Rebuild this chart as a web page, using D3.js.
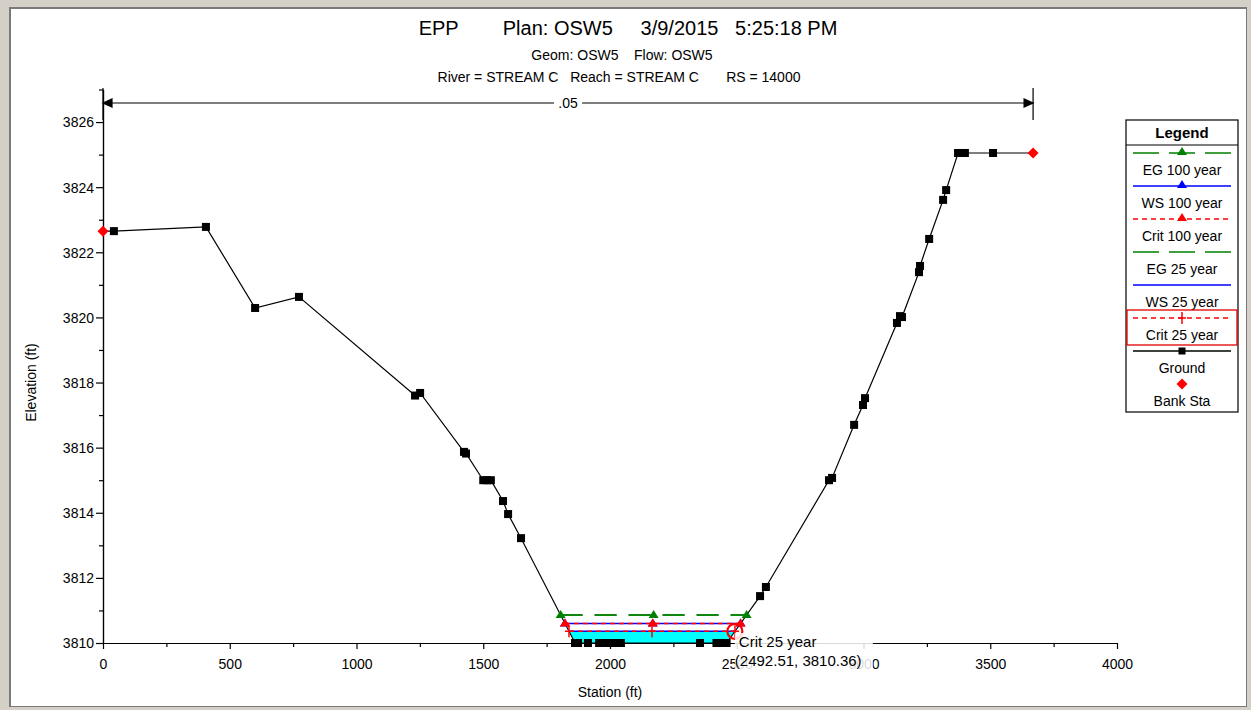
<!DOCTYPE html>
<html><head><meta charset="utf-8">
<script src="https://cdn.jsdelivr.net/npm/d3@7"></script>
<style>
html,body{margin:0;padding:0;background:#d4d0c8;}
svg{display:block;font-family:"Liberation Sans",Arial,sans-serif;}
</style></head>
<body>
<svg id="chart" width="1251" height="710"></svg>
<script>
// ---------- data ----------
const titleLines = ["EPP        Plan: OSW5     3/9/2015   5:25:18 PM",
                    "Geom: OSW5    Flow: OSW5",
                    "River = STREAM C   Reach = STREAM C       RS = 14000"];
const groundStation = [0, 43, 406, 600, 773, 1231, 1251, 1424, 1432, 1500, 1515, 1530, 1578, 1598, 1649,
  1862, 1874, 1913, 1957, 1975, 1995, 2015, 2035, 2043, 2355, 2420, 2440, 2460,
  2592, 2615, 2864, 2876, 2963, 2998, 3006, 3132, 3144, 3152, 3219, 3223, 3259, 3314, 3326, 3373, 3390, 3400, 3511, 3669];
const groundElev = [3822.65, 3822.65, 3822.78, 3820.29, 3820.63, 3817.60, 3817.68, 3815.87, 3815.82, 3815.0, 3815.0, 3815.0, 3814.36, 3813.96, 3813.22,
  3810.0, 3810.0, 3810.0, 3810.0, 3810.0, 3810.0, 3810.0, 3810.0, 3810.0, 3810.0, 3810.0, 3810.0, 3810.0,
  3811.44, 3811.72, 3815.0, 3815.07, 3816.70, 3817.31, 3817.52, 3819.83, 3820.04, 3820.01, 3821.39, 3821.58, 3822.41, 3823.61, 3823.91, 3825.05, 3825.05, 3825.05, 3825.05, 3825.05];
const bankStation = [0, 3669];
const bankElev = [3822.65, 3825.05];
const profileNames = ["EG 100 year", "WS 100 year", "Crit 100 year", "EG 25 year", "WS 25 year", "Crit 25 year"];
const profileElev = [3810.86, 3810.60, 3810.60, 3810.86, 3810.36, 3810.36];
const nValueLabel = [".05"];
const nValueStations = [0, 3669];
const xTicks = [0, 500, 1000, 1500, 2000, 2500, 3000, 3500, 4000];
const yTicks = [3810, 3812, 3814, 3816, 3818, 3820, 3822, 3824, 3826];
const tipLabel = "Crit 25 year";
const tipStation = 2492.51;
const tipElev = 3810.36;

// ---------- setup ----------
const svg = d3.select("#chart");
const x = d3.scaleLinear().domain([0, 4000]).range([103, 1117]);
const y = d3.scaleLinear().domain([3810, 3827]).range([643, 89.5]);
const ground = groundStation.map((s, i) => ({s, e: groundElev[i]}));

// window frame
svg.append("rect").attr("x", 0).attr("y", 0).attr("width", 1251).attr("height", 710).attr("fill", "#d4d0c8");
svg.append("rect").attr("x", 9).attr("y", 7).attr("width", 1238).attr("height", 700).attr("fill", "#7a7a7a");
svg.append("rect").attr("x", 11).attr("y", 9).attr("width", 1235).attr("height", 697).attr("fill", "#ffffff");

// titles
svg.append("text").attr("x", 628).attr("y", 35).attr("text-anchor", "middle").attr("font-size", 20)
  .style("white-space", "pre").text(titleLines[0]);
svg.append("text").attr("x", 622).attr("y", 60).attr("text-anchor", "middle").attr("font-size", 14)
  .style("white-space", "pre").text(titleLines[1]);
svg.append("text").attr("x", 619).attr("y", 82).attr("text-anchor", "middle").attr("font-size", 14)
  .style("white-space", "pre").text(titleLines[2]);

// axes
const yMinor = d3.range(3810, 3828, 1).filter(v => v % 2 !== 0);
const yAxisMinor = svg.append("g").attr("transform", `translate(${x(0)},0)`)
  .call(d3.axisLeft(y).tickValues(yMinor).tickSize(4).tickSizeOuter(0).tickFormat(""));
const yAxis = svg.append("g").attr("transform", `translate(${x(0)},0)`)
  .call(d3.axisLeft(y).tickValues(yTicks).tickSize(7).tickSizeOuter(0).tickPadding(2).tickFormat(d3.format("d")));
const xMinor = d3.range(250, 4000, 500);
const xAxisMinor = svg.append("g").attr("transform", `translate(0,${y(3810)})`)
  .call(d3.axisBottom(x).tickValues(xMinor).tickSize(4).tickSizeOuter(0).tickFormat(""));
const xAxis = svg.append("g").attr("transform", `translate(0,${y(3810)})`)
  .call(d3.axisBottom(x).tickValues(xTicks).tickSize(6).tickSizeOuter(0).tickPadding(10).tickFormat(d3.format("d")));
[yAxis, xAxis, yAxisMinor, xAxisMinor].forEach(g => {
  g.selectAll("text").attr("font-size", 14).attr("fill", "#000").style("font-family", '"Liberation Sans",Arial,sans-serif');
  g.selectAll("line,path").attr("stroke", "#000").attr("stroke-width", 1.2);
});
yAxis.selectAll("text").attr("dy", "0.35em");

svg.append("text").attr("transform", `translate(36,${y(3818)}) rotate(-90)`).attr("text-anchor", "middle")
  .attr("font-size", 14).text("Elevation (ft)");
svg.append("text").attr("x", x(2000)).attr("y", 697).attr("text-anchor", "middle").attr("font-size", 14).text("Station (ft)");

// n-value span
const nY = 103;
const ng = svg.append("g").attr("stroke", "#000").attr("stroke-width", 1.2);
ng.append("line").attr("x1", x(nValueStations[0])).attr("x2", x(nValueStations[1])).attr("y1", nY).attr("y2", nY);
nValueStations.forEach(s => ng.append("line").attr("x1", x(s)).attr("x2", x(s)).attr("y1", 88).attr("y2", 120));
ng.append("path").attr("fill", "#000").attr("d", `M${x(0)},${nY} l9,-4 l0,8 z`);
ng.append("path").attr("fill", "#000").attr("d", `M${x(nValueStations[1])},${nY} l-9,-4 l0,8 z`);
const nMid = (x(nValueStations[0]) + x(nValueStations[1])) / 2;
svg.append("rect").attr("x", nMid - 14).attr("y", nY - 8).attr("width", 28).attr("height", 16).attr("fill", "#fff");
svg.append("text").attr("x", nMid).attr("y", nY + 5).attr("text-anchor", "middle").attr("font-size", 14).text(nValueLabel[0]);

// helper: ground intersections at elevation
function crossings(el) {
  const pts = [];
  for (let i = 0; i < ground.length - 1; i++) {
    const a = ground[i], b = ground[i + 1];
    if ((a.e - el) * (b.e - el) < 0) {
      pts.push(a.s + (el - a.e) / (b.e - a.e) * (b.s - a.s));
    }
  }
  return [pts[0], pts[pts.length - 1]];
}

// water fill (WS 25 year)
const wsFill = profileElev[4];
const [fl, fr] = crossings(wsFill);
const fillPts = [{s: fl, e: wsFill}].concat(ground.filter(d => d.s > fl && d.s < fr)).concat([{s: fr, e: wsFill}]);
svg.append("path").datum(fillPts).attr("fill", "#00ffff")
  .attr("d", d3.area().x(d => x(d.s)).y0(d => y(d.e)).y1(y(wsFill)));

// ground line
svg.append("path").datum(ground).attr("fill", "none").attr("stroke", "#000").attr("stroke-width", 1.2)
  .attr("d", d3.line().x(d => x(d.s)).y(d => y(d.e)));

// profile lines
const styles = [
  {color: "#008000", dash: "22,12", marker: "tri"},
  {color: "#0000ff", dash: null, marker: "tri"},
  {color: "#ff0000", dash: "5,4", marker: "tri"},
  {color: "#008000", dash: "22,12", marker: null},
  {color: "#0000ff", dash: null, marker: null},
  {color: "#ff0000", dash: "5,4", marker: "plus"}
];
function drawMarker(g, type, cx, cy, color) {
  if (type === "tri") {
    g.append("path").attr("d", `M${cx},${cy - 5} L${cx + 5},${cy + 3} L${cx - 5},${cy + 3} Z`).attr("fill", color);
  } else if (type === "plus") {
    g.append("path").attr("d", `M${cx - 4},${cy} H${cx + 4} M${cx},${cy - 6} V${cy + 6}`).attr("stroke", color).attr("stroke-width", 1.5);
  } else if (type === "square") {
    g.append("rect").attr("x", cx - 4).attr("y", cy - 4).attr("width", 8).attr("height", 8).attr("fill", color);
  } else if (type === "diamond") {
    g.append("path").attr("d", `M${cx},${cy - 5.5} L${cx + 5.5},${cy} L${cx},${cy + 5.5} L${cx - 5.5},${cy} Z`).attr("fill", color);
  }
}
const profG = svg.append("g");
profileNames.forEach((name, i) => {
  const el = profileElev[i];
  const [l, r] = crossings(el);
  const st = styles[i];
  profG.append("line").attr("x1", x(l)).attr("x2", x(r)).attr("y1", y(el)).attr("y2", y(el))
    .attr("stroke", st.color).attr("stroke-width", 1.6).attr("stroke-dasharray", st.dash);
  if (st.marker) {
    [l, (l + r) / 2, r].forEach(s => drawMarker(profG, st.marker, x(s), y(el), st.color));
  }
});

// ground points (bank station points drawn as red diamonds instead)
const gp = svg.append("g");
ground.filter(d => !bankStation.includes(d.s)).forEach(d => drawMarker(gp, "square", x(d.s), y(d.e), "#000"));
bankStation.forEach((s, i) => drawMarker(gp, "diamond", x(s), y(bankElev[i]), "#ff0000"));

// tooltip
svg.append("circle").attr("cx", x(tipStation)).attr("cy", y(tipElev)).attr("r", 7.5)
  .attr("fill", "none").attr("stroke", "#ff0000").attr("stroke-width", 2.2);
svg.append("rect").attr("x", x(tipStation)).attr("y", 633).attr("width", 138).attr("height", 37)
  .attr("fill", "#ffffff").attr("opacity", 0.85);
svg.append("text").attr("x", x(tipStation) + 4).attr("y", 647).attr("font-size", 15).text(tipLabel);
svg.append("text").attr("x", x(tipStation)).attr("y", 666).attr("font-size", 15)
  .text(`(${tipStation.toFixed(2)}, ${tipElev.toFixed(2)})`);

// legend
const lg = svg.append("g");
const LX = 1126, LW = 112;
lg.append("rect").attr("x", LX).attr("y", 120).attr("width", LW).attr("height", 292).attr("fill", "#fff").attr("stroke", "#000").attr("stroke-width", 1.2);
lg.append("line").attr("x1", LX).attr("x2", LX + LW).attr("y1", 145).attr("y2", 145).attr("stroke", "#000").attr("stroke-width", 1.2);
lg.append("text").attr("x", LX + LW / 2).attr("y", 138).attr("text-anchor", "middle").attr("font-size", 15).attr("font-weight", "bold").text("Legend");
const legNames = profileNames.concat(["Ground", "Bank Sta"]);
const legStyles = styles.concat([{color: "#000", dash: null, marker: "square", line: true}, {color: "#ff0000", dash: null, marker: "diamond", line: false}]);
legNames.forEach((name, i) => {
  const ly = 153 + i * 33;
  const st = legStyles[i];
  if (st.line !== false) {
    lg.append("line").attr("x1", LX + 7).attr("x2", LX + LW - 7).attr("y1", ly).attr("y2", ly)
      .attr("stroke", st.color).attr("stroke-width", 1.6).attr("stroke-dasharray", st.dash ? (st.dash === "22,12" ? "26,10" : st.dash) : null);
  }
  if (st.marker) {
    if (st.marker === "square") lg.append("rect").attr("x", LX + LW / 2 - 3.5).attr("y", ly - 3.5).attr("width", 7).attr("height", 7).attr("fill", "#000");
    else drawMarker(lg, st.marker, LX + LW / 2, st.marker === "tri" ? ly - 1 : ly, st.color);
  }
  lg.append("text").attr("x", LX + LW / 2).attr("y", ly + 22).attr("text-anchor", "middle").attr("font-size", 14).text(name);
});
lg.append("rect").attr("x", LX + 1).attr("y", 310).attr("width", LW - 2).attr("height", 35).attr("fill", "none").attr("stroke", "#e00000").attr("stroke-width", 1.3);
</script>
</body></html>
